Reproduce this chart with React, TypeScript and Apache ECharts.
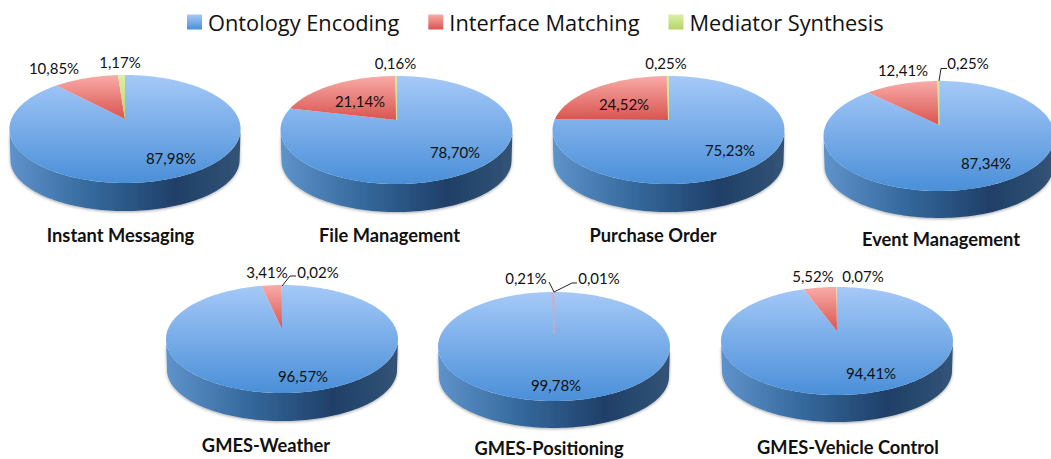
import React, { useEffect, useRef } from "react";
import * as echarts from "echarts";

const pieNames = ["Instant Messaging", "File Management", "Purchase Order", "Event Management", "GMES-Weather", "GMES-Positioning", "GMES-Vehicle Control"];
const ontologyEncoding = [87.98, 78.7, 75.23, 87.34, 96.57, 99.78, 94.41];
const interfaceMatching = [10.85, 21.14, 24.52, 12.41, 3.41, 0.21, 5.52];
const mediatorSynthesis = [1.17, 0.16, 0.25, 0.25, 0.02, 0.01, 0.07];

// [centre x, centre y, radius x, radius y, apex y, wall bottom y]
const pieBoxes = [
  [125, 129, 115.6, 54, 119, 211],
  [396.5, 130, 116, 54, 120, 212],
  [668.5, 130, 116, 54, 120, 212],
  [939, 136, 115.5, 55, 125, 218],
  [282, 339, 116, 54, 329, 421],
  [554, 346.5, 116, 54.5, 334, 428],
  [837, 341, 116, 54, 331, 422],
];
// label centres, per series, per pie
const ontologyLabelAt = [[171, 158], [455, 152], [730, 150], [986, 163], [303, 376], [556, 385], [871, 373]];
const interfaceLabelAt = [[54, 68], [360, 101], [624, 104], [903, 70], [267, 272], [526, 278], [813, 276]];
const mediatorLabelAt = [[120, 62], [395.5, 63], [666, 63], [968, 63], [318, 272], [599, 278], [863, 276]];
// leader lines
const leaderLines = [
  [[939, 81], [941, 68.5], [947, 68.5]],
  [[282, 286], [290, 276], [296, 276]],
  [[554, 292], [549, 282]],
  [[554, 292], [572, 283], [577, 283]],
];
const titleAt = [[120.5, 235], [389.5, 235], [653, 235], [941, 239], [266, 445], [549, 448], [848, 447]];

const LABEL_FONT = "15px Lato, sans-serif";

const vGrad = (a: string, b: string) =>
  new echarts.graphic.LinearGradient(0, 0, 0, 1, [{ offset: 0, color: a }, { offset: 1, color: b }]);
const blueFill = () => vGrad("#a5c9f8", "#4a8fd8");
const redFill = () => vGrad("#f9aba8", "#d9544f");
const greenFill = () => vGrad("#dcefa6", "#b6d566");
const wallFill = () =>
  new echarts.graphic.LinearGradient(0, 0, 1, 0, [
    { offset: 0, color: "#5f93cb" },
    { offset: 0.35, color: "#35699d" },
    { offset: 0.72, color: "#1f3f68" },
    { offset: 1, color: "#335476" },
  ]);

const fmt = (v: number) => v.toFixed(2).replace(".", ",") + "%";

// Rim point at a clockwise angle from 12 o'clock on the perspective-tilted disc.
function rim(box: number[], deg: number) {
  const [cx, cy, rx, ry, ay] = box;
  const t = (deg * Math.PI) / 180;
  const e = (cy - ay) / ry;
  const X = Math.sin(t);
  const Y = Math.cos(t);
  const d = 1 + e * Y;
  const u = (X * Math.sqrt(1 - e * e)) / d;
  const v = (Y + e) / d;
  return [cx + u * rx, cy - v * ry];
}

function wedge(box: number[], a: number, b: number) {
  const pts: number[][] = [[box[0], box[4]]];
  const n = Math.max(2, Math.ceil((b - a) / 1.5));
  for (let i = 0; i <= n; i++) pts.push(rim(box, a + ((b - a) * i) / n));
  return pts;
}

function wall(box: number[]) {
  const [cx, cy, rx, ry, , bottom] = box;
  const ryb = ry - 3;
  const rxb = rx - 1;
  const cyb = bottom - ryb;
  const pts: number[][] = [];
  for (let i = 0; i <= 90; i++) {
    const t = (Math.PI * i) / 90;
    pts.push([cx - rx * Math.cos(t), cy + ry * Math.sin(t)]);
  }
  for (let i = 90; i >= 0; i--) {
    const t = (Math.PI * i) / 90;
    pts.push([cx - rxb * Math.cos(t), cyb + ryb * Math.sin(t)]);
  }
  return pts;
}

function sliceSeries(name: string, values: number[], labelAt: number[][], fill: () => any, thinStroke: string, startOf: (i: number) => number, isBase: boolean, z: number, extra: any[]) {
  return {
    type: "custom",
    name,
    coordinateSystem: "none",
    silent: true,
    z,
    data: values.map((v, i) => [i, v]),
    renderItem: (_: any, api: any) => {
      const i = api.value(0);
      const v = api.value(1);
      const box = pieBoxes[i];
      const total = ontologyEncoding[i] + interfaceMatching[i] + mediatorSynthesis[i];
      const a = (startOf(i) / total) * 360;
      const b = ((startOf(i) + v) / total) * 360;
      const children: any[] = [];
      if (isBase) {
        children.push({
          type: "polygon",
          shape: { points: wall(box) },
          style: { fill: wallFill(), shadowBlur: 3, shadowColor: "rgba(0,0,0,0.35)", shadowOffsetY: 1 },
        });
      }
      const thin = v < 0.3 && v > 0.1;
      children.push({
        type: "polygon",
        shape: { points: wedge(box, a, b) },
        style: thin ? { fill: fill(), stroke: thinStroke, lineWidth: 0.8 } : { fill: fill() },
      });
      children.push({
        type: "text",
        x: labelAt[i][0],
        y: labelAt[i][1],
        z2: 10,
        style: { text: fmt(v), font: LABEL_FONT, fill: "#111111", align: "center", verticalAlign: "middle" },
      });
      if (i < extra.length) {
        extra[i].forEach((pts: number[][]) =>
          children.push({ type: "polyline", shape: { points: pts }, style: { stroke: "#222222", lineWidth: 1, fill: null } })
        );
      }
      return { type: "group", children };
    },
  };
}

export default function App() {
  const ref = useRef<HTMLDivElement>(null);
  useEffect(() => {
    document.body.style.margin = "0";
    const chart = echarts.init(ref.current!, null, { renderer: "svg" });
    const leadersByPie = [[], [], [], [leaderLines[0]], [leaderLines[1]], [leaderLines[2], leaderLines[3]], []];
    chart.setOption({
      animation: false,
      backgroundColor: "#ffffff",
      legend: {
        left: 182,
        top: 6,
        itemWidth: 15,
        itemHeight: 15,
        itemGap: 29,
        icon: "rect",
        textStyle: { fontFamily: "Open Sans", fontSize: 21.8, color: "#111111", padding: [0, 0, 0, 1] },
        data: [
          { name: "Ontology Encoding", itemStyle: { color: blueFill() } },
          { name: "Interface Matching", itemStyle: { color: redFill() } },
          { name: "Mediator Synthesis", itemStyle: { color: greenFill() } },
        ],
      },
      title: pieNames.map((text, i) => ({
        text,
        left: titleAt[i][0],
        top: titleAt[i][1] - 9,
        textAlign: "center",
        padding: 0,
        textStyle: { fontFamily: "Lato, sans-serif", fontWeight: "bold", fontSize: 18.3, color: "#111111", lineHeight: 18 },
      })),
      series: [
        sliceSeries("Ontology Encoding", ontologyEncoding, ontologyLabelAt, blueFill, "#5b9be0", () => 0, true, 2, []),
        sliceSeries("Interface Matching", interfaceMatching, interfaceLabelAt, redFill, "#e8a0a8", (i) => ontologyEncoding[i], false, 3, []),
        sliceSeries("Mediator Synthesis", mediatorSynthesis, mediatorLabelAt, greenFill, "#d2e59a", (i) => ontologyEncoding[i] + interfaceMatching[i], false, 4, leadersByPie),
      ],
    });
    return () => chart.dispose();
  }, []);
  return <div ref={ref} style={{ width: 1051, height: 459 }} />;
}
